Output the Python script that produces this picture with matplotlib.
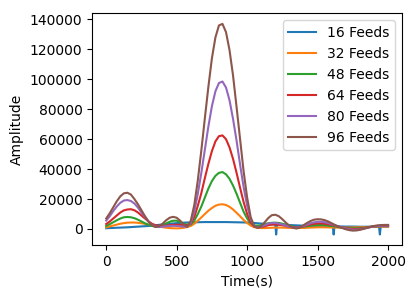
import numpy as np
import matplotlib
matplotlib.use('Agg')
import matplotlib.pyplot as plt

# time axis (s), every 25 s
t = list(range(0, 2001, 25))

# 16 feeds has its own time axis because of the narrow dips
t_16 = [0, 50, 100, 150, 200, 250, 300, 350, 400, 450, 500, 550, 600, 650, 700, 750,
        800, 850, 900, 950, 1000, 1050, 1100, 1150, 1200, 1206, 1212, 1250, 1300,
        1350, 1400, 1450, 1500, 1550, 1600, 1608, 1614, 1620, 1650, 1700, 1750,
        1800, 1850, 1900, 1936, 1942, 1948, 2000]
amp_16 = [500, 700, 900, 1100, 1400, 1700, 2000, 2500, 3000, 3500, 3900, 4200, 4400,
          4500, 4600, 4600, 4600, 4600, 4500, 4400, 4300, 4000, 3600, 3300, 3000,
          -3700, 2950, 2800, 2600, 2400, 2200, 2100, 2000, 1900, 1800, 1780, -3700,
          1770, 1700, 1600, 1600, 1500, 1500, 1500, 1500, -3700, 1500, 1500]

amp_32 = [1100, 1700, 2300, 2900, 3500, 3900, 4200, 4300, 4300, 4100, 3800, 3400,
          3000, 2500, 2000, 1600, 1200, 850, 600, 450, 400, 500, 800, 1300,
          2000, 3500, 5500, 7700, 10000, 12200, 14000, 15500, 16300, 16500, 16000,
          14800, 13000, 10800, 8500, 6000, 4000, 2300, 1200,
          700, 600, 600, 700, 800, 900, 900, 900, 800, 700, 650, 600, 650, 700, 800,
          900, 1000, 1100, 1100, 1100, 1050, 1000, 950, 900, 900, 900, 950, 1000,
          1050, 1100, 1200, 1300, 1400, 1500, 1550, 1600, 1600, 1600]
amp_48 = [2000, 3200, 4500, 5800, 7000, 7800, 8000, 7800, 7200, 6200, 5000, 3800,
          2800, 2000, 1500, 1800, 2500, 3700, 4800, 5500, 5500, 4700, 3500, 2800,
          3000, 5500, 10000, 15000, 21000, 27000, 32000, 35500, 37500, 38000, 36500,
          33500, 29000, 23500, 17500, 11500, 7000, 3800, 2300,
          2200, 2500, 3200, 3800, 4100, 4200, 4000, 3500, 2900, 2200, 1600, 1200,
          1200, 1500, 1800, 2200, 2500, 2700, 2700, 2600, 2300, 2000, 1600, 1200,
          900, 600, 450, 400, 450, 600, 800, 1100, 1400, 1600, 1800, 1900, 2000, 2000]
amp_64 = [3300, 5000, 7000, 9000, 11000, 12400, 13000, 13200, 12500, 11000, 9000,
          7000, 5000, 3500, 2500, 2100, 2000, 2200, 2500, 2700, 2800, 2700, 2500, 2600,
          3500, 8000, 15500, 24000, 34000, 43500, 52000, 58500, 62000, 62500, 60000,
          54500, 46800, 37500, 27500, 18000, 10000, 4500, 1600,
          1100, 1200, 1800, 2500, 2900, 3000, 2800, 2500, 2000, 1500, 1200, 1000,
          1300, 1800, 2400, 3000, 3400, 3700, 3700, 3500, 3100, 2700, 2100, 1500,
          1000, 500, 200, 0, 0, 200, 500, 900, 1300, 1700, 1900, 2000, 2100, 2100]
amp_80 = [5600, 8500, 12000, 15000, 17500, 19000, 19300, 18700, 17000, 14300, 11000,
          8000, 5000, 2800, 1600, 1300, 1500, 1800, 2000, 2100, 2000, 1800, 1500, 1600,
          4000, 11500, 23500, 37500, 53000, 68500, 82000, 92000, 97500, 98500, 94500,
          86000, 73500, 59000, 43000, 28000, 15500, 6500, 2000,
          1200, 1500, 2500, 3500, 4000, 4000, 3600, 3000, 2200, 1500, 1000, 800,
          1200, 2000, 2900, 3800, 4400, 4800, 4800, 4500, 3900, 3200, 2400, 1600,
          900, 300, -200, -500, -500, -300, 200, 700, 1200, 1700, 2000, 2200, 2300, 2300]
amp_96 = [7000, 10500, 14500, 18500, 21800, 23800, 24200, 23000, 20000, 16500, 12500,
          8500, 5000, 2500, 1300, 1800, 3500, 5800, 7500, 8100, 7500, 5500, 3000, 1300,
          5500, 16000, 32500, 52500, 74000, 95000, 114000, 128000, 136000, 137000,
          131500, 119500, 102500, 81500, 60000, 38500, 21000, 8000, 1800,
          700, 1800, 4500, 7300, 9200, 9500, 8500, 6500, 4200, 2200, 800, 300, 1000,
          2500, 4000, 5300, 6200, 6500, 6400, 5900, 5000, 3800, 2600, 1500, 600, -200,
          -800, -1100, -1000, -600, 0, 700, 1400, 2000, 2400, 2600, 2700, 2700]

labels = ['16 Feeds', '32 Feeds', '48 Feeds', '64 Feeds', '80 Feeds', '96 Feeds']

fig = plt.figure(figsize=(4.15, 2.97), dpi=100)
ax = fig.add_axes([0.222, 0.175, 0.747, 0.780])

ax.plot(t_16, amp_16, label=labels[0])
ax.plot(t, amp_32, label=labels[1])
ax.plot(t, amp_48, label=labels[2])
ax.plot(t, amp_64, label=labels[3])
ax.plot(t, amp_80, label=labels[4])
ax.plot(t, amp_96, label=labels[5])

ax.set_xlabel('Time(s)')
ax.set_ylabel('Amplitude')
ax.legend(loc='upper right')

fig.savefig('out.png', dpi=100)
